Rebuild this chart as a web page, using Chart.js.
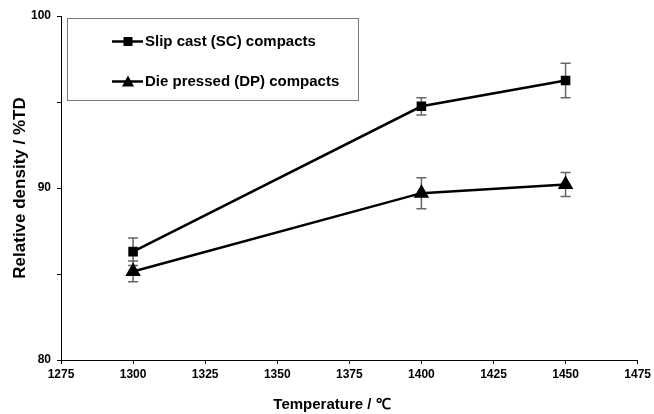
<!DOCTYPE html>
<html lang="en">
<head>
<meta charset="UTF-8">
<title>Relative density vs temperature</title>
<script src="https://cdn.jsdelivr.net/npm/chart.js"></script>
<style>
    body { margin: 0; padding: 0; background: #fff; }
    #wrap { width: 654px; height: 414px; }
</style>
</head>
<body>
<div id="wrap"><canvas id="densityChart" width="654" height="414"></canvas></div>
<script>
    // values
    const temps = [1300, 1400, 1450];
    const scDensity = [86.3, 94.75, 96.25];
    const scError = [0.8, 0.5, 1.0];
    const dpDensity = [85.15, 89.7, 90.2];
    const dpError = [0.6, 0.9, 0.7];
    const seriesNames = ["Slip cast (SC) compacts", "Die pressed (DP) compacts"];
    const xTitle = "Temperature / \u2103";
    const yTitle = "Relative density / %TD";

    const font = "'Liberation Sans', Arial, sans-serif";

    function toPoints(ys) {
        return temps.map((t, i) => ({ x: t, y: ys[i] }));
    }

    const errorBars = {
        id: "errorBars",
        beforeDatasetsDraw(chart) {
            const ctx = chart.ctx;
            const xs = chart.scales.x, ys = chart.scales.y;
            const errs = [scError, dpError];
            ctx.save();
            ctx.strokeStyle = "#666";
            ctx.lineWidth = 1.5;
            chart.data.datasets.forEach((ds, d) => {
                ds.data.forEach((p, i) => {
                    const px = xs.getPixelForValue(p.x);
                    const top = ys.getPixelForValue(p.y + errs[d][i]);
                    const bot = ys.getPixelForValue(p.y - errs[d][i]);
                    ctx.beginPath();
                    ctx.moveTo(px, top); ctx.lineTo(px, bot);
                    ctx.moveTo(px - 5, top); ctx.lineTo(px + 5, top);
                    ctx.moveTo(px - 5, bot); ctx.lineTo(px + 5, bot);
                    ctx.stroke();
                });
            });
            ctx.restore();
        }
    };

    // legend box inside the plot + the x title (slightly left of centre, as in the original)
    const boxLegend = {
        id: "boxLegend",
        afterDraw(chart) {
            const ctx = chart.ctx;
            ctx.save();
            ctx.strokeStyle = "#7a7a7a";
            ctx.lineWidth = 1;
            ctx.strokeRect(67.5, 18.5, 291, 82);
            const rows = [41.5, 81.5];
            chart.data.datasets.forEach((ds, i) => {
                const y = rows[i];
                ctx.strokeStyle = "#000";
                ctx.lineWidth = 2.5;
                ctx.beginPath();
                ctx.moveTo(112, y); ctx.lineTo(143, y);
                ctx.stroke();
                ctx.fillStyle = "#000";
                ctx.beginPath();
                if (ds.pointStyle === "rect") {
                    ctx.rect(123.5, y - 4.5, 9, 9);
                } else {
                    ctx.moveTo(128, y - 6); ctx.lineTo(134, y + 5); ctx.lineTo(122, y + 5);
                    ctx.closePath();
                }
                ctx.fill();
                ctx.font = "bold 15px " + font;
                ctx.textBaseline = "middle";
                ctx.textAlign = "left";
                ctx.fillText(seriesNames[i], 145, y);
            });
            ctx.font = "bold 15px " + font;
            ctx.textAlign = "center";
            ctx.textBaseline = "middle";
            ctx.fillText(xTitle, 332, 405);
            ctx.restore();
        }
    };

    new Chart(document.getElementById("densityChart"), {
        type: "scatter",
        data: {
            datasets: [
                {
                    label: seriesNames[0],
                    data: toPoints(scDensity),
                    showLine: true,
                    borderColor: "#000",
                    backgroundColor: "#000",
                    borderWidth: 2.5,
                    pointStyle: "rect",
                    pointRadius: 5,
                    pointHoverRadius: 5
                },
                {
                    label: seriesNames[1],
                    data: toPoints(dpDensity),
                    showLine: true,
                    borderColor: "#000",
                    backgroundColor: "#000",
                    borderWidth: 2.5,
                    pointStyle: "triangle",
                    pointRadius: 6.5,
                    pointHoverRadius: 6.5
                }
            ]
        },
        options: {
            responsive: false,
            animation: false,
            layout: { padding: { top: 16, right: 14, left: 0, bottom: 0 } },
            plugins: {
                legend: { display: false },
                tooltip: { enabled: false }
            },
            scales: {
                x: {
                    type: "linear",
                    min: 1275,
                    max: 1475,
                    ticks: {
                        stepSize: 25,
                        color: "#000",
                        padding: 3,
                        maxRotation: 0,
                        font: { family: font, size: 12, weight: "bold" },
                        callback: v => String(v)
                    },
                    grid: { display: true, drawOnChartArea: false, tickLength: 4, tickColor: "#000" },
                    border: { color: "#000", width: 1 },
                    afterFit(scale) { scale.height = 54; }
                },
                y: {
                    min: 80,
                    max: 100,
                    ticks: {
                        stepSize: 5,
                        color: "#000",
                        padding: 6,
                        font: { family: font, size: 12, weight: "bold" },
                        callback: v => (v % 10 === 0 ? String(v) : "")
                    },
                    grid: { display: true, drawOnChartArea: false, tickLength: 4, tickColor: "#000" },
                    border: { color: "#000", width: 1 },
                    title: {
                        display: true,
                        text: yTitle,
                        color: "#000",
                        padding: { top: 10, bottom: 0 },
                        font: { family: font, size: 17, weight: "bold" }
                    },
                    afterFit(scale) { scale.width = 61; }
                }
            }
        },
        plugins: [errorBars, boxLegend]
    });
</script>
</body>
</html>
